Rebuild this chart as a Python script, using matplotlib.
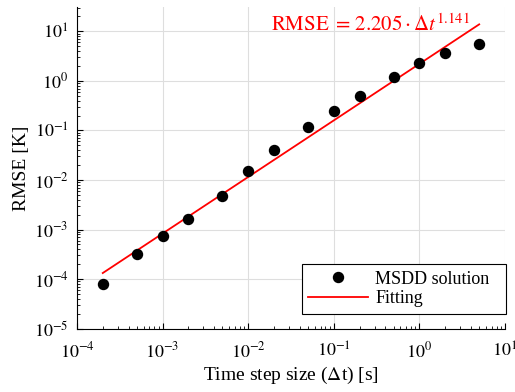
import numpy as np
import matplotlib.pyplot as plt

plt.rcParams['font.family'] = ['Liberation Serif', 'DejaVu Serif']
plt.rcParams['mathtext.fontset'] = 'stix'

# MSDD solution error vs time step
dt = np.array([2e-4, 5e-4, 1e-3, 2e-3, 5e-3, 1e-2, 2e-2, 5e-2, 0.1, 0.2, 0.5, 1, 2, 5])
rmse = np.array([7.9e-5, 3.2e-4, 7.5e-4, 1.67e-3, 4.8e-3, 1.5e-2, 4.05e-2, 0.118,
                 0.25, 0.50, 1.22, 2.26, 3.6, 5.55])

# power-law fit coefficients shown on the chart
fit_a = 2.205
fit_b = 1.141

fig = plt.figure(figsize=(5.15, 3.92), dpi=100)
ax = fig.add_axes([0.1495, 0.1615, 0.831, 0.8205])

dt_fit = np.array([dt[0], dt[-1]])
ax.loglog(dt, rmse, 'o', color='k', markersize=7.2, label='MSDD solution', zorder=3)
ax.loglog(dt_fit, fit_a * dt_fit**fit_b, '-', color='#ff0000', lw=1.3, label='Fitting')

ax.set_xlim(1e-4, 10)
ax.set_ylim(1e-5, 10**1.49)
ax.set_xticks([1e-4, 1e-3, 1e-2, 1e-1, 1, 10])
ax.set_xticklabels(['$10^{-4}$', '$10^{-3}$', '$10^{-2}$', '$10^{-1}$', '$10^{0}$', '$10^{1}$'])
ax.set_yticks([1e-5, 1e-4, 1e-3, 1e-2, 1e-1, 1, 10])
ax.set_yticklabels(['$10^{-5}$', '$10^{-4}$', '$10^{-3}$', '$10^{-2}$', '$10^{-1}$', '$10^{0}$', '$10^{1}$'])

ax.grid(True, which='major', color='#dedede', lw=0.8)
ax.set_axisbelow(True)
ax.spines['top'].set_visible(False)
ax.spines['right'].set_visible(False)
for s in ['left', 'bottom']:
    ax.spines[s].set_linewidth(0.8)
ax.tick_params(which='both', direction='in', labelsize=13, colors='k')
ax.tick_params(which='major', length=4)
ax.tick_params(which='minor', length=2)
ax.tick_params(axis='x', which='major', pad=9)
ax.tick_params(axis='y', which='major', pad=6)

ax.set_xlabel(r'Time step size ($\Delta$t) [s]', fontsize=14, labelpad=3)
ax.set_ylabel('RMSE [K]', fontsize=14, labelpad=3)

ax.text(0.685, 0.945, r'$\mathrm{RMSE}\;=\,2.205 \cdot \Delta t^{1.141}$', transform=ax.transAxes,
        color='#ff0000', fontsize=15, ha='center', va='center')

leg = ax.legend(loc='lower left', bbox_to_anchor=(0.5257, 0.0466, 0.4766, 0.16), mode='expand',
                fontsize=13, frameon=True, fancybox=False, edgecolor='k', framealpha=1,
                borderaxespad=0, handlelength=3.3, handletextpad=0.4, labelspacing=0.15,
                borderpad=0.35)
leg.get_frame().set_linewidth(0.8)

fig.savefig('out.png', dpi=100)
